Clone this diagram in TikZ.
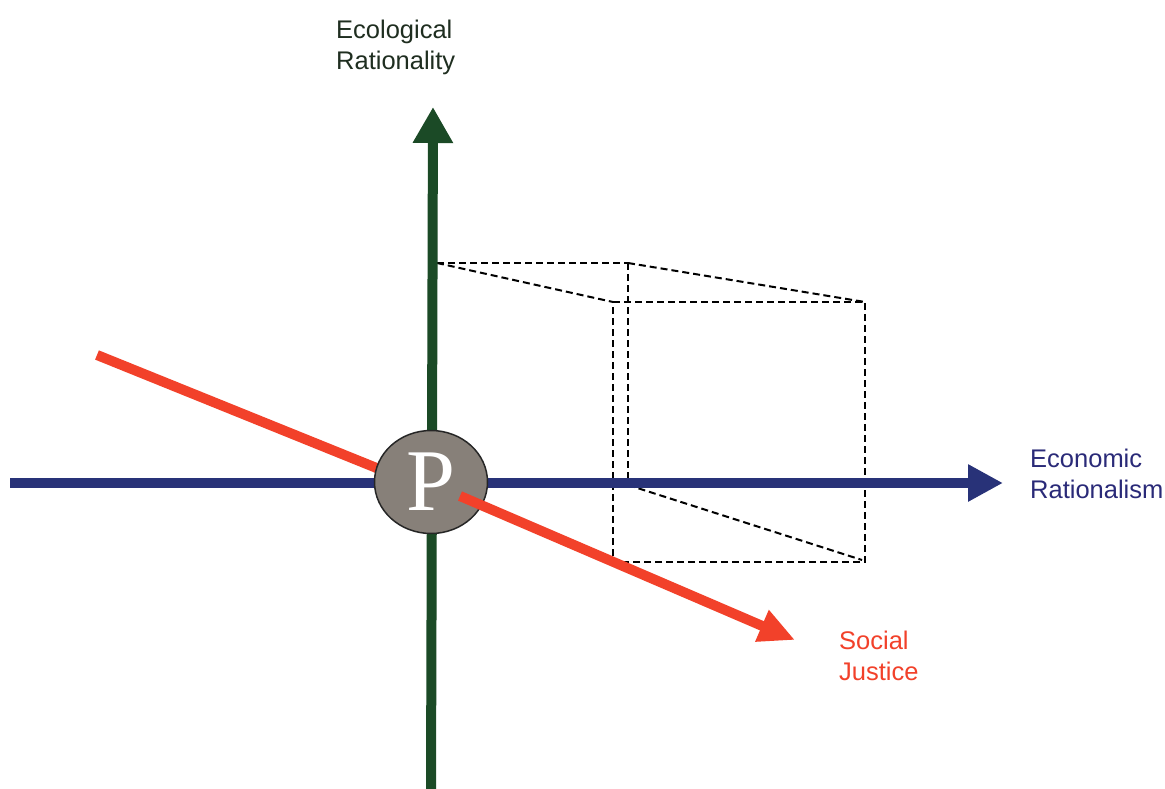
\documentclass[tikz,border=0pt]{standalone}
\usepackage{fontspec}
\setmainfont{Liberation Serif}
\setsansfont{Liberation Sans}
\usetikzlibrary{arrows.meta,shapes.geometric}
\definecolor{ecogreen}{HTML}{1B4A26}
\definecolor{ecotext}{HTML}{1F2E20}
\definecolor{econblue}{HTML}{283278}
\definecolor{econtext}{HTML}{2A2A78}
\definecolor{socred}{HTML}{F2412A}
\definecolor{pgrey}{HTML}{878079}
\tikzset{
  axislabel/.style={inner sep=0pt, anchor=north west, align=left,
    font=\sffamily\fontsize{25.5}{30.5}\selectfont},
  cubeline/.style={draw=black, line width=2pt, dash pattern=on 7pt off 4pt},
}
\begin{document}
\begin{tikzpicture}[x=1pt,y=-1pt]
\useasboundingbox[fill=white] (0,0) rectangle (1165,789);
% coordinates
\coordinate (gstart) at (431,789);
\coordinate (gend) at (433,107);
\coordinate (bstart) at (10,483);
\coordinate (bend) at (1003,483);
\coordinate (rstart) at (97,355);
\coordinate (rmid) at (460,496);
\coordinate (rend) at (795,640);
\coordinate (c1) at (437,263);
\coordinate (c2) at (628,263);
\coordinate (c3) at (613,302);
\coordinate (c4) at (865,302);
\coordinate (c5) at (865,562);
\coordinate (c6) at (613,562);
\coordinate (c7) at (628,485);
\coordinate (c8) at (862,560);
% cube
\draw[cubeline] (c1) -- (c2);
\draw[cubeline] (c1) -- (c3);
\draw[cubeline] (c2) -- (c4);
\draw[cubeline] (c2) -- (c7);
\draw[cubeline] (c3) -- (c4) -- (c5) -- (c6) -- cycle;
\draw[cubeline] (c7) -- (c8);
% axes
\draw[ecogreen, line width=10pt, -{Triangle[length=36pt,width=38pt]}] (gstart) -- (gend);
\draw[econblue, line width=9.5pt, -{Triangle[length=35pt,width=35pt]}] (bstart) -- (bend);
\draw[socred, line width=10pt] (rstart) -- (431,490);
% P node
\node[ellipse, draw=black!85, line width=1.5pt, fill=pgrey, minimum width=113pt, minimum height=103pt, inner sep=0pt,
  text=white, font=\fontsize{88}{88}\selectfont] (P) at (431,482) {P};
\draw[socred, line width=10pt, -{Triangle[length=36pt,width=32pt]}] (rmid) -- (rend);
% labels
\node[axislabel, text=ecotext] (eco) at (336,20) {Ecological\\Rationality};
\node[axislabel, text=econtext] (econ) at (1030,449) {Economic\\Rationalism};
\node[axislabel, text=socred] (soc) at (839,631) {Social\\Justice};
\end{tikzpicture}
\end{document}
